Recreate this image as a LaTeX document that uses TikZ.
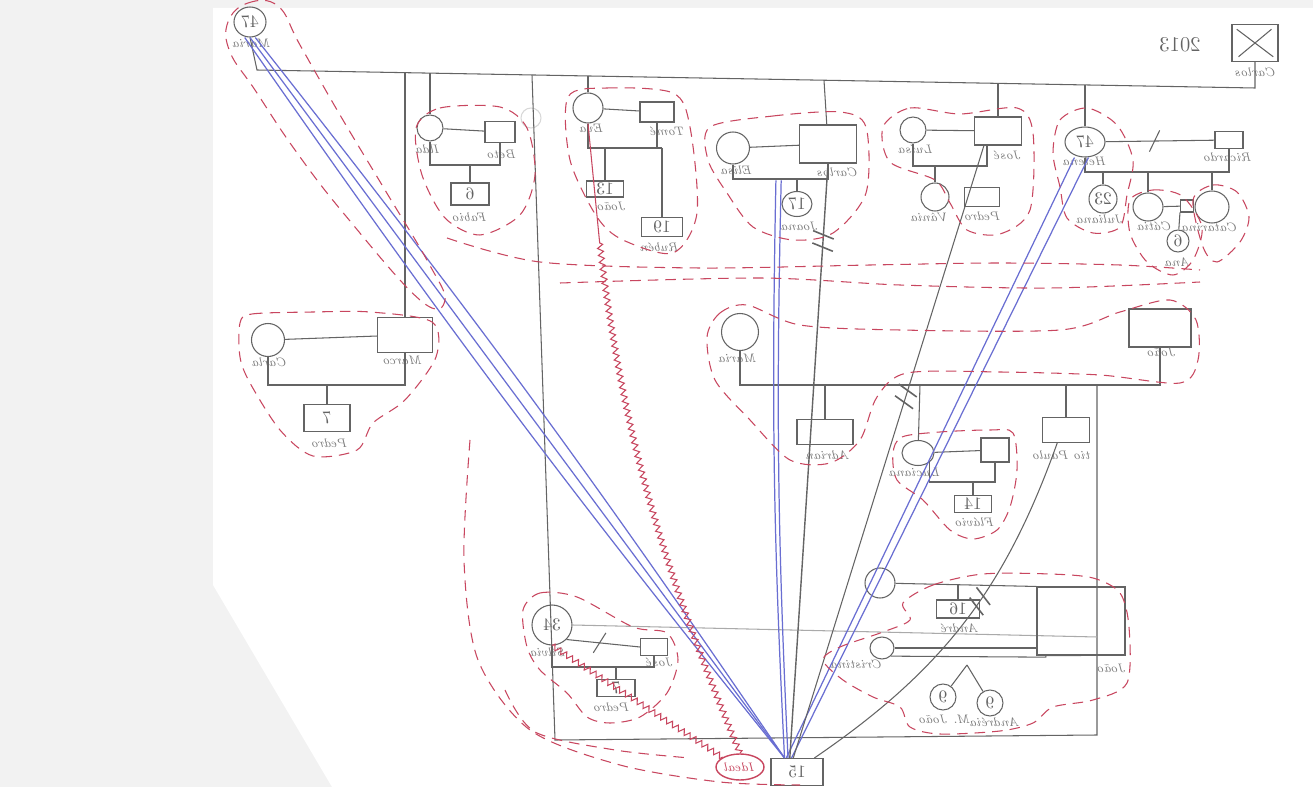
\documentclass[tikz,border=0pt]{standalone}
\usepackage{graphicx}
\usetikzlibrary{positioning, shapes.geometric, decorations.pathmorphing, decorations.markings}
\definecolor{lapis}{RGB}{100,100,100}
\definecolor{azul}{RGB}{105,110,210}
\definecolor{verm}{RGB}{200,70,95}
\definecolor{scanner}{RGB}{242,242,242}
\newcommand{\mir}[1]{\reflectbox{#1}}
\tikzset{
  sz/.style 2 args={minimum width=#1*0.02cm, minimum height=#2*0.02cm},
  masc/.style={draw=lapis, line width=0.6pt, rectangle, inner sep=0pt, font=\normalsize, text=lapis},
  fem/.style={draw=lapis, line width=0.6pt, ellipse, inner sep=0pt, font=\normalsize, text=lapis},
  nome/.style={font=\scriptsize\itshape, text=lapis!85, inner sep=0pt},
  pen/.style={draw=lapis, line width=0.6pt},
  azulrel/.style={draw=azul, line width=0.7pt},
  grupo/.style={draw=verm, line width=0.6pt, dash pattern=on 6pt off 4pt},
  conflito/.style={draw=verm, line width=0.6pt, decorate,
    decoration={zigzag, segment length=4pt, amplitude=1.6pt}},
  cortado/.style={postaction={decorate, decoration={markings,
    mark=at position #1 with {\draw[lapis, line width=0.9pt] (-2pt,-6pt) -- (2pt,6pt) (5pt,-6pt) -- (9pt,6pt);}}}},
  separado/.style={postaction={decorate, decoration={markings,
    mark=at position #1 with {\draw[lapis, line width=0.6pt] (-3pt,-6pt) -- (3pt,6pt);}}}},
}
\begin{document}
\begin{tikzpicture}[x=0.02cm, y=-0.02cm]
  \useasboundingbox (0,0) rectangle (1313,787);
  \fill[scanner] (0,0) rectangle (1313,787);
  \fill[white] (213,8) -- (1313,8) -- (1313,787) -- (332,787) -- (213,585) -- cycle;

  % avós
  \node[fem, sz={32}{30}] (avo) at (250,22) {\mir{47}};
  \node[nome] (nAvo) at (252,43) {\mir{Maria}};
  \node[masc, sz={46}{37}] (avoX) at (1255,43) {};
  \draw[pen] ([shift={(3pt,-3pt)}]avoX.north west) -- ([shift={(-3pt,3pt)}]avoX.south east)
             ([shift={(-4pt,-3pt)}]avoX.north east) -- ([shift={(4pt,3pt)}]avoX.south west);
  \node[nome] (nAvoX) at (1256,72) {\mir{Carlos}};
  \node[font=\large, text=lapis] (ano) at (1180,45) {\mir{2013}};
  \draw[pen] (avo.south) -- (257,70) -- (1255,88) -- (avoX.south);

  % Marco e Carla
  \node[masc, sz={55}{35}] (marco) at (405,335) {};
  \node[nome] (nMarco) at (403,360) {\mir{Marco}};
  \node[fem, sz={33}{33}] (carla) at (268,340) {};
  \node[nome] (nCarla) at (270,362) {\mir{Carla}};
  \node[masc, sz={46}{27}] (pedroM) at (327,418) {\mir{7}};
  \node[nome] (nPedroM) at (330,443) {\mir{Pedro}};
  \draw[pen] (405,72.6) -- (marco);
  \draw[pen] (carla) -- (marco);
  \draw[pen] (carla.south) |- (405,385) -- (marco.south);
  \draw[pen] (327,385) -- (pedroM);

  % Ilda e Beto
  \node[fem, sz={26}{26}] (ilda) at (430,128) {};
  \node[nome] (nIlda) at (428,149) {\mir{Ilda}};
  \node[masc, sz={30}{21}] (beto) at (500,132) {};
  \node[nome] (nBeto) at (502,154) {\mir{Beto}};
  \node[masc, sz={38}{22}] (fabio) at (470,194) {\mir{6}};
  \node[nome] (nFabio) at (470,217) {\mir{Fabio}};
  \node[fem, draw=lapis!25, sz={20}{20}] (sombra) at (531,118) {};
  \draw[pen] (430,73.1) -- (ilda);
  \draw[pen] (ilda) -- (beto);
  \draw[pen] (ilda.south) |- (500,165) -- (beto.south);
  \draw[pen] (470,165) -- (fabio);

  % Eva e Tome
  \node[fem, sz={30}{30}] (eva) at (588,108) {};
  \node[nome] (nEva) at (592,128) {\mir{Eva}};
  \node[masc, sz={34}{20}] (tome) at (657,112) {};
  \node[nome] (nTome) at (668,131) {\mir{Tomé}};
  \node[masc, sz={37}{16}] (joaoE) at (605,189) {\mir{13}};
  \node[nome] (nJoaoE) at (612,206) {\mir{João}};
  \node[masc, sz={41}{19}] (ruben) at (662,227) {\mir{19}};
  \node[nome] (nRuben) at (660,247) {\mir{Rubén}};
  \draw[pen] (588,76) -- (eva);
  \draw[pen] (eva) -- (tome);
  \draw[pen] (eva.south) |- (662,148);
  \draw[pen] (657,148) -- (tome.south);
  \draw[pen] (605,148) -- (joaoE);
  \draw[pen] (662,148) -- (ruben);

  % Elisa e Carlos
  \node[fem, sz={33}{32}] (elisa) at (733,148) {};
  \node[nome] (nElisa) at (737,170) {\mir{Elisa}};
  \node[masc, sz={57}{38}] (carlos) at (828,144) {};
  \node[nome] (nCarlos) at (838,172) {\mir{Carlos}};
  \node[fem, sz={30}{25}] (joana) at (797,204) {\mir{17}};
  \node[nome] (nJoana) at (800,226) {\mir{Joana}};
  \draw[pen] (824,80.2) -- (carlos);
  \draw[pen] (elisa) -- (carlos);
  \draw[pen] (elisa.south) |- (828,179) -- (carlos.south);
  \draw[pen] (797,179) -- (joana);

  % Luisa e Jose
  \node[fem, sz={26}{26}] (luisa) at (913,130) {};
  \node[nome] (nLuisa) at (916,149) {\mir{Luísa}};
  \node[masc, sz={47}{28}] (jose) at (998,131) {};
  \node[nome] (nJose) at (1008,155) {\mir{José}};
  \node[fem, sz={28}{28}] (vania) at (935,197) {};
  \node[nome] (nVania) at (930,217) {\mir{Vânia}};
  \node[masc, sz={35}{19}] (pedroJ) at (982,197) {};
  \node[nome] (nPedroJ) at (983,216) {\mir{Pedro}};
  \draw[pen] (998,83.3) -- (jose);
  \draw[pen] (luisa) -- (jose);
  \draw[pen] (luisa.south) |- (987,166) |- (jose.south);
  \draw[pen] (935,166) -- (vania);

  % Helena e Ricardo
  \node[fem, sz={40}{30}] (helena) at (1085,142) {\mir{47}};
  \node[nome] (nHelena) at (1085,161) {\mir{Helena}};
  \node[masc, sz={28}{17}] (ricardo) at (1229,140) {};
  \node[nome] (nRicardo) at (1228,157) {\mir{Ricardo}};
  \draw[pen] (1085,84.9) -- (helena);
  \draw[pen, separado=0.45] (helena) -- (ricardo);
  \draw[pen] (helena.south) |- (1229,172) -- (ricardo.south);
  \node[fem, sz={28}{28}] (juliana) at (1103,199) {\mir{23}};
  \node[nome] (nJuliana) at (1100,219) {\mir{Juliana}};
  \node[fem, sz={30}{28}] (catia) at (1148,207) {};
  \node[nome] (nCatia) at (1155,226) {\mir{Cátia}};
  \node[masc, sz={13}{12}] (catiaP) at (1187,206) {};
  \node[fem, sz={22}{22}] (ana) at (1178,241) {\mir{6}};
  \node[nome] (nAna) at (1178,262) {\mir{Ana}};
  \node[fem, sz={34}{32}] (catarina) at (1212,207) {};
  \node[nome] (nCatarina) at (1210,227) {\mir{Catarina}};
  \draw[pen] (1103,172) -- (juliana);
  \draw[pen] (1148,172) -- (catia);
  \draw[pen] (1212,172) -- (catarina);
  \draw[pen] (catia) -- (catiaP);
  \draw[pen] (catiaP.south west) -- (ana);

  % Maria e Joao
  \node[fem, sz={37}{37}] (maria) at (740,332) {};
  \node[nome] (nMaria) at (738,358) {\mir{Maria}};
  \node[masc, sz={62}{38}] (joaoM) at (1160,328) {};
  \node[nome] (nJoaoM) at (1162,352) {\mir{João}};
  \draw[pen] (maria.south) |- (1160,385) -- (joaoM.south);
  \node[masc, sz={56}{25}] (adrian) at (825,432) {};
  \node[nome] (nAdrian) at (828,455) {\mir{Adrian}};
  \draw[pen] (825,385) -- (adrian);
  \node[fem, sz={32}{25}] (luciana) at (918,453) {};
  \node[nome] (nLuciana) at (915,472) {\mir{Luciana}};
  \node[masc, sz={28}{24}] (lucP) at (995,450) {};
  \node[masc, sz={37}{17}] (flavio) at (973,504) {\mir{14}};
  \node[nome] (nFlavio) at (975,522) {\mir{Flávio}};
  \draw[pen] (920,385) -- (luciana);
  \draw[pen] (luciana) -- (lucP);
  \draw[pen] (luciana.south east) |- (995,482) -- (lucP.south);
  \draw[pen] (973,482) -- (flavio);
  \node[masc, sz={47}{25}] (tio) at (1066,430) {};
  \node[nome] (nTio) at (1062,455) {\mir{tio Paulo}};
  \draw[pen] (1066,385) -- (tio);

  % moldura dos irmaos
  \draw[pen] (532,75) -- (555,740) -- (1097,735) -- (1097,385);

  % Silvia e Jose
  \node[fem, sz={40}{40}] (silvia) at (552,625) {\mir{34}};
  \node[nome] (nSilvia) at (548,652) {\mir{Sílvia}};
  \node[masc, sz={27}{17}] (joseS) at (654,647) {};
  \node[nome] (nJoseS) at (660,662) {\mir{José}};
  \node[masc, sz={38}{17}] (pedroS) at (616,688) {\mir{7}};
  \node[nome] (nPedroS) at (612,707) {\mir{Pedro}};
  \draw[pen, separado=0.45] (silvia.south east) -- (joseS.west);
  \draw[pen, draw=lapis!55] (silvia.east) -- (1097,637);
  \draw[pen] (silvia.south) |- (654,667) -- (joseS.south);
  \draw[pen] (616,667) -- (pedroS);

  % Joao, Cristina e filhos
  \node[fem, sz={30}{30}] (mulher) at (880,583) {};
  \node[masc, sz={88}{68}] (joaoB) at (1081,621) {};
  \node[nome] (nJoaoB) at (1112,668) {\mir{João}};
  \draw[pen] (mulher) -- (joaoB.north west);
  \node[masc, sz={43}{18}] (andre) at (958,609) {\mir{16}};
  \node[nome] (nAndre) at (960,628) {\mir{André}};
  \draw[pen] (958,584) -- (andre);
  \node[fem, sz={24}{22}] (cristina) at (882,648) {};
  \node[nome] (nCristina) at (857,664) {\mir{Cristina}};
  \draw[pen] (cristina) -- (cristina -| joaoB.west);
  \draw[pen] (cristina.south east) -- ++(155,1) |- (joaoB.south);
  \node[fem, sz={26}{26}] (mjoao) at (943,697) {\mir{9}};
  \node[nome] (nMjoao) at (945,719) {\mir{M. João}};
  \node[fem, sz={26}{26}] (andreia) at (990,703) {\mir{9}};
  \node[nome] (nAndreia) at (995,722) {\mir{Andréia}};
  \draw[pen] (967,665) -- (mjoao);
  \draw[pen] (967,665) -- (andreia);

  % ego e ideal
  \node[masc, sz={52}{27}] (ego) at (797,772) {\mir{15}};
  \coordinate (hub) at ([xshift=8pt]ego.north west);
  \node[ellipse, draw=verm, line width=0.8pt, inner sep=0pt, sz={48}{26},
        text=verm, font=\scriptsize\itshape] (ideal) at (740,767) {\mir{Ideal}};

  % relacoes com o ego
  \foreach \b in {-2,0,2}
    \draw[azulrel] ([xshift=1.5*\b pt]avo.south) to[bend left=\b] (hub);
  \draw[azulrel] ([shift={(-12pt,6pt)}]joana.north) to[bend right=2] (hub);
  \draw[azulrel] ([shift={(-9pt,6pt)}]joana.north) to[bend right=2] ([xshift=2pt]hub);
  \draw[azulrel] ([xshift=-6pt]helena.south) -- ([xshift=1pt]hub);
  \draw[azulrel] ([xshift=2pt]helena.south) -- ([xshift=4pt]hub);
  \draw[pen, line width=0.8pt, cortado=0.12] (carlos.south) -- ([xshift=3pt]hub);
  \draw[pen, cortado=0.40] ([xshift=-8pt]jose.south) -- ([xshift=5pt]hub);
  \draw[pen, cortado=0.42] ([xshift=-5pt]tio.south) to[bend left=18] ([xshift=25pt]ego.north west);
  \draw[conflito, decoration={pre length=2.4cm}] (eva.south) to[bend right=9] (ideal.north);
  \draw[conflito] (silvia.south) -- (ideal.north west);

  % fronteiras dos subsistemas
  \draw[grupo] plot[smooth cycle, tension=0.7] coordinates {(228,22) (248,3) (278,6) (300,45) (340,115) (385,190) (428,262) (445,300) (420,300) (345,215) (295,150) (255,90) (230,52)};
  \draw[grupo] plot[smooth cycle] coordinates {(416,128) (440,108) (500,107) (527,128) (535,175) (520,215) (480,235) (445,218) (422,175)};
  \draw[grupo] plot[smooth cycle] coordinates {(568,97) (607,88) (673,93) (690,127) (697,213) (673,253) (623,240) (597,217) (570,160)};
  \draw[grupo] plot[smooth cycle] coordinates {(710,127) (773,116) (840,112) (866,127) (866,193) (833,233) (793,240) (753,227) (727,193) (708,160)};
  \draw[grupo] plot[smooth cycle] coordinates {(883,127) (910,108) (960,114) (1017,108) (1033,133) (1030,210) (1000,234) (967,230) (950,203) (935,180) (890,162)};
  \draw[grupo] plot[smooth cycle] coordinates {(1053,153) (1060,120) (1087,108) (1117,125) (1133,160) (1127,195) (1120,227) (1093,233) (1067,218) (1060,187)};
  \draw[grupo] plot[smooth cycle] coordinates {(1130,200) (1153,190) (1182,196) (1202,227) (1193,260) (1173,275) (1147,262) (1130,233)};
  \draw[grupo] plot[smooth cycle] coordinates {(1193,200) (1213,185) (1237,192) (1249,217) (1240,242) (1217,262) (1203,247)};
  \draw[grupo] plot[smooth] coordinates {(447,238) (540,262) (700,268) (870,265) (1000,263) (1120,265) (1200,270)};
  \draw[grupo] plot[smooth] coordinates {(560,283) (760,278) (900,285) (1050,288) (1200,282)};
  \draw[grupo] plot[smooth cycle] coordinates {(707,337) (720,313) (747,305) (800,325) (900,330) (1060,330) (1120,312) (1170,300) (1196,320) (1198,360) (1180,383) (1100,375) (1000,372) (907,373) (877,397) (860,440) (830,463) (790,460) (750,420) (715,380)};
  \draw[grupo] plot[smooth cycle] coordinates {(240,323) (252,314) (313,312) (370,312) (432,322) (436,357) (405,400) (373,423) (357,450) (313,456) (280,430) (250,383) (240,357)};
  \draw[grupo] plot[smooth cycle] coordinates {(893,453) (902,437) (940,432) (990,430) (1013,433) (1017,470) (1010,507) (997,530) (973,539) (950,530) (923,500) (897,480)};
  \draw[grupo] plot[smooth cycle] coordinates {(903,603) (933,585) (983,574) (1050,574) (1093,578) (1120,593) (1129,627) (1127,683) (1093,700) (1053,707) (1033,723) (1000,731) (940,734) (910,727) (900,707) (873,697) (843,680) (823,660) (840,647) (883,632) (910,620)};
  \draw[grupo] plot[smooth cycle] coordinates {(523,610) (540,593) (577,597) (633,627) (667,633) (678,660) (667,693) (640,717) (610,723) (587,717) (567,693) (540,670) (527,647)};
  \draw[grupo] plot[smooth] coordinates {(470,440) (464,560) (478,660) (530,730) (620,765) (720,782) (800,785)};
  \draw[grupo] plot[smooth] coordinates {(505,690) (535,732) (615,750) (690,758)};
\end{tikzpicture}
\end{document}
